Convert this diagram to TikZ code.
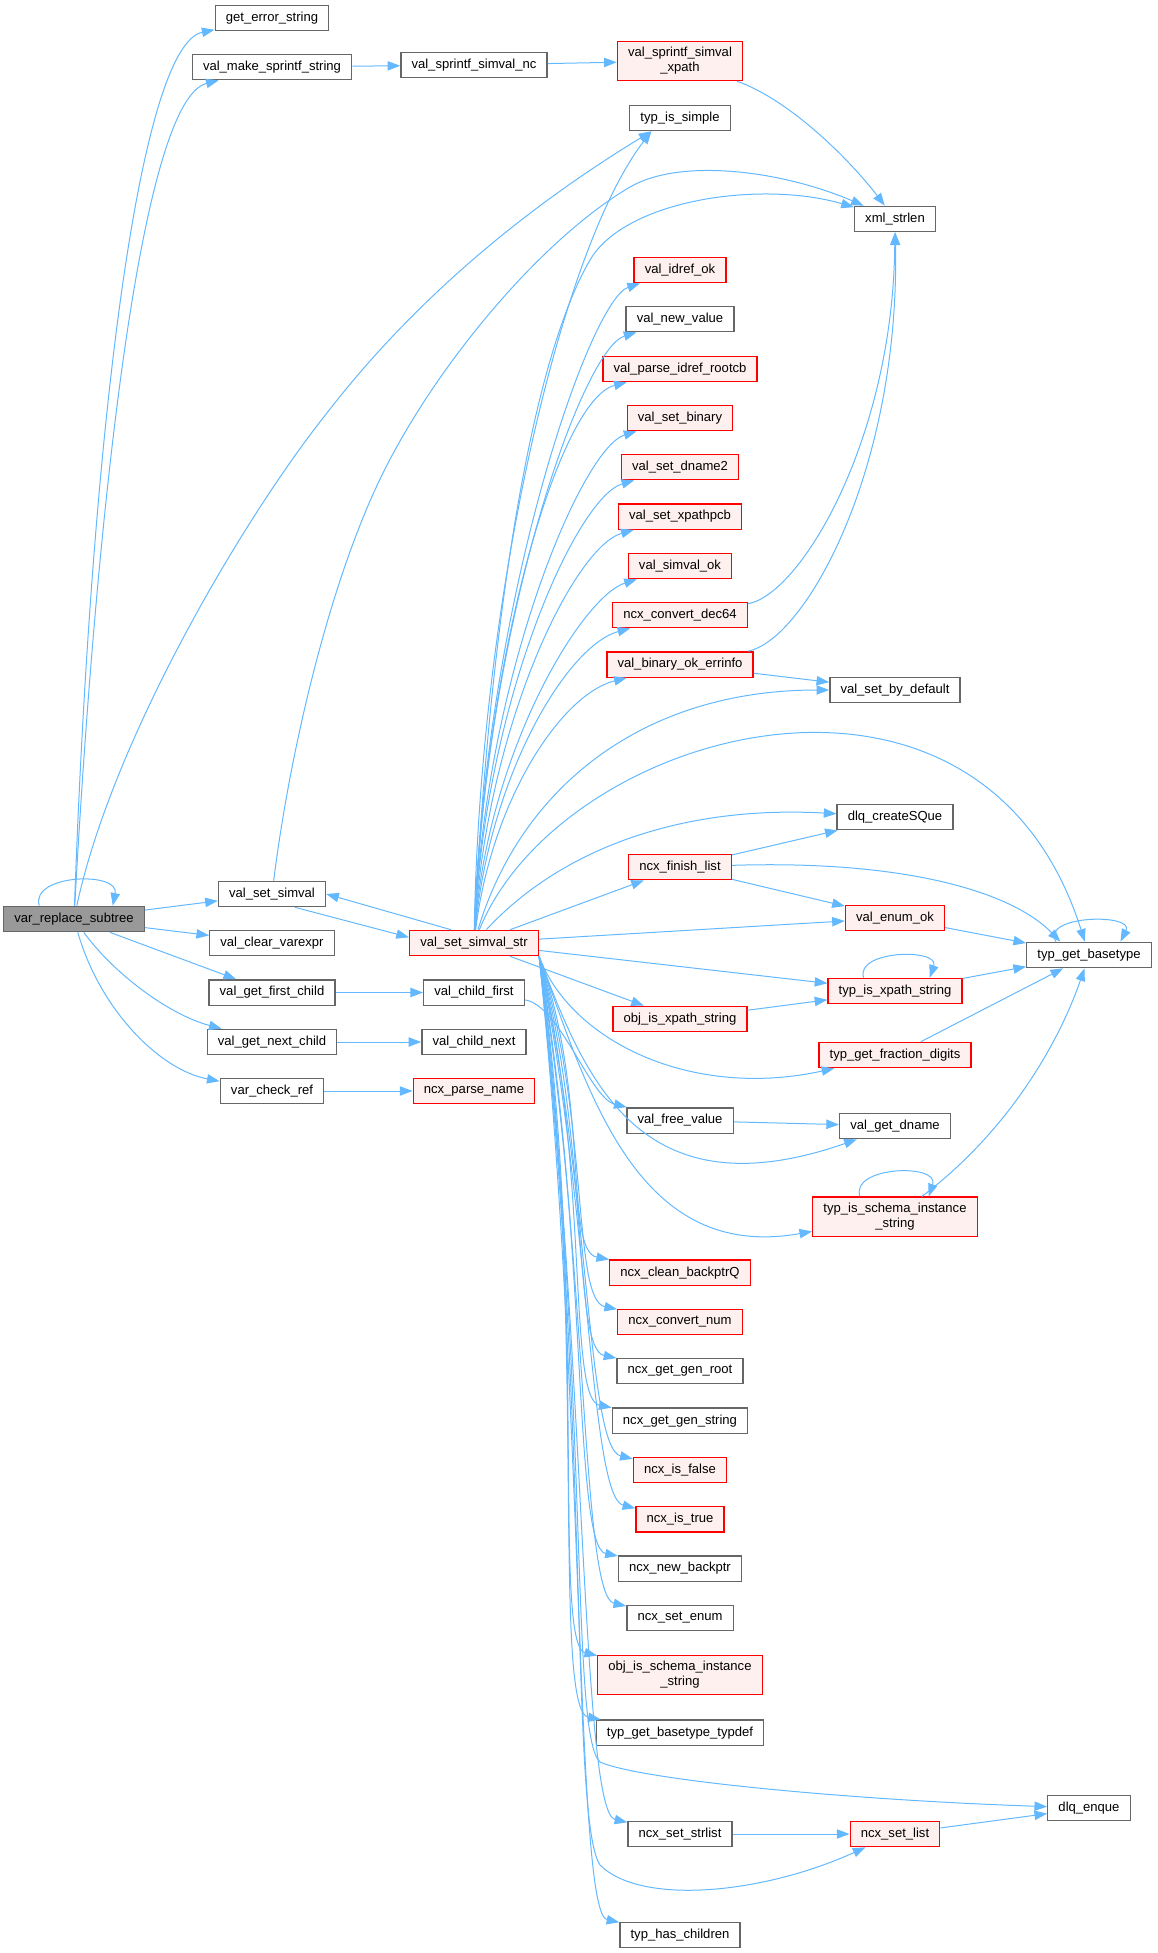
\documentclass[tikz,border=0pt]{standalone}
\usepackage{fontspec}
\setmainfont{Liberation Sans}
\usetikzlibrary{arrows.meta}
\definecolor{edgeblue}{HTML}{63B8FF}
\definecolor{boxgray}{HTML}{666666}
\definecolor{fillred}{HTML}{FFF0F0}
\definecolor{fillroot}{HTML}{999999}
\begin{document}
\begin{tikzpicture}[x=0.75pt, y=-0.75pt,
  func/.style={draw=boxgray, fill=white, line width=1pt, inner xsep=8pt, inner ysep=4.5pt, minimum height=19pt, align=center, font=\fontsize{9.8pt}{11.25pt}\selectfont},
  funcred/.style={func, draw=red, fill=fillred},
  funcroot/.style={func, fill=fillroot},
  calls/.style={draw=edgeblue, line width=0.75pt, -{Triangle[length=9.5pt, width=7pt]}}]
\useasboundingbox (0,0) rectangle (1157,1953);
\node[funcroot] (R) at (74,919) {var\_replace\_subtree};
\node[func] (ges) at (272,18) {get\_error\_string};
\node[func] (vmss) at (272,67) {val\_make\_sprintf\_string};
\node[func] (vssnc) at (474,65) {val\_sprintf\_simval\_nc};
\node[funcred] (vssx) at (680,61) {val\_sprintf\_simval\\\_xpath};
\node[func] (tis) at (680,118) {typ\_is\_simple};
\node[func] (xsl) at (895,219) {xml\_strlen};
\node[funcred] (vio) at (680,270) {val\_idref\_ok};
\node[func] (vnv) at (680,319) {val\_new\_value};
\node[funcred] (vpir) at (680,369) {val\_parse\_idref\_rootcb};
\node[funcred] (vsb) at (680,418) {val\_set\_binary};
\node[funcred] (vsd) at (680,467) {val\_set\_dname2};
\node[funcred] (vsx) at (680,516.5) {val\_set\_xpathpcb};
\node[funcred] (vso) at (680,566) {val\_simval\_ok};
\node[funcred] (ncd) at (680,615) {ncx\_convert\_dec64};
\node[funcred] (vboe) at (680,664.5) {val\_binary\_ok\_errinfo};
\node[func] (vsbd) at (895,690) {val\_set\_by\_default};
\node[func] (dcs) at (895,817) {dlq\_createSQue};
\node[funcred] (nfl) at (680,867) {ncx\_finish\_list};
\node[func] (vss) at (272,894) {val\_set\_simval};
\node[funcred] (S) at (474,943) {val\_set\_simval\_str};
\node[func] (vcv) at (272,943) {val\_clear\_varexpr};
\node[funcred] (veo) at (895,918) {val\_enum\_ok};
\node[func] (tgb) at (1089,955) {typ\_get\_basetype};
\node[funcred] (tixs) at (895,991) {typ\_is\_xpath\_string};
\node[func] (vgfc) at (272,992.5) {val\_get\_first\_child};
\node[func] (vcf) at (474,992.5) {val\_child\_first};
\node[funcred] (oixs) at (680,1019) {obj\_is\_xpath\_string};
\node[funcred] (tgfd) at (895,1055) {typ\_get\_fraction\_digits};
\node[func] (vgnc) at (272,1042) {val\_get\_next\_child};
\node[func] (vcn) at (474,1042) {val\_child\_next};
\node[func] (vcr) at (272,1091) {var\_check\_ref};
\node[funcred] (npn) at (474,1091) {ncx\_parse\_name};
\node[func] (vfv) at (680,1120.5) {val\_free\_value};
\node[func] (vgd) at (895,1126) {val\_get\_dname};
\node[funcred] (tisis) at (895,1216.7) {typ\_is\_schema\_instance\\\_string};
\node[funcred] (ncb) at (680,1272.7) {ncx\_clean\_backptrQ};
\node[funcred] (ncn) at (680,1322) {ncx\_convert\_num};
\node[func] (nggr) at (680,1371) {ncx\_get\_gen\_root};
\node[func] (nggs) at (680,1420.7) {ncx\_get\_gen\_string};
\node[funcred] (nif) at (680,1470) {ncx\_is\_false};
\node[funcred] (nit) at (680,1519.3) {ncx\_is\_true};
\node[func] (nnb) at (680,1568.5) {ncx\_new\_backptr};
\node[func] (nse) at (680,1618) {ncx\_set\_enum};
\node[funcred] (oisis) at (680,1675) {obj\_is\_schema\_instance\\\_string};
\node[func] (tgbt) at (680,1732.7) {typ\_get\_basetype\_typdef};
\node[func] (dle) at (1089,1808) {dlq\_enque};
\node[func] (nssl) at (680,1834) {ncx\_set\_strlist};
\node[funcred] (nsl) at (895,1834) {ncx\_set\_list};
\node[func] (thc) at (680,1935) {typ\_has\_children};
% callers on the left
\draw[calls] (R.159) .. controls (30,874) and (120,871) .. (R.19);
\draw[calls] (R) .. controls (92,420) and (140,45) .. (ges);
\draw[calls] (R) .. controls (96,520) and (140,100) .. (vmss);
\draw[calls] (R) .. controls (110,750) and (230,540) .. (316,427) .. controls (345,390) and (440,260) .. (tis.205);
\draw[calls] (R) -- (vss);
\draw[calls] (R) -- (vcv);
\draw[calls] (R) -- (vgfc);
\draw[calls] (R) .. controls (115,975) and (170,1015) .. (vgnc);
\draw[calls] (R) .. controls (100,1010) and (160,1070) .. (vcr);
\draw[calls] (vmss) -- (vssnc);
\draw[calls] (vssnc) -- (vssx);
\draw[calls] (vssx) .. controls (790,100) and (850,160) .. (xsl);
\draw[calls] (vss.-30) -- (S.175);
\draw[calls] (S.150) -- (vss.east);
\draw[calls] (vss) .. controls (290,750) and (330,580) .. (383,473) .. controls (436,366) and (540,240) .. (630,187) .. controls (680,158) and (780,170) .. (xsl);
\draw[calls] (vgfc) -- (vcf);
\draw[calls] (vgnc) -- (vcn);
\draw[calls] (vcr) -- (npn);
\draw[calls] (vcf) .. controls (560,1005) and (590,1098) .. (vfv);
% val_set_simval_str, upwards
\draw[calls] (S) .. controls (480,600) and (560,250) .. (tis.205);
\draw[calls] (S) .. controls (485,700) and (520,380) .. (590,260) .. controls (625,200) and (760,180) .. (xsl);
\draw[calls] (S) .. controls (485,600) and (590,300) .. (vio);
\draw[calls] (S) .. controls (485,625) and (582,349) .. (vnv);
\draw[calls] (S) .. controls (485,650) and (560,399) .. (vpir);
\draw[calls] (S) .. controls (485,675) and (582,448) .. (vsb);
\draw[calls] (S) .. controls (485,699) and (577,497) .. (vsd);
\draw[calls] (S) .. controls (487,724) and (574,547) .. (vsx);
\draw[calls] (S) .. controls (488,749) and (583,596) .. (vso);
\draw[calls] (S) .. controls (490,773) and (568,645) .. (ncd);
\draw[calls] (S) .. controls (492,798) and (562,694) .. (vboe);
\draw[calls] (S) .. controls (520,790) and (640,690) .. (vsbd);
\draw[calls] (S) .. controls (560,730) and (980,610) .. (tgb);
\draw[calls] (S) .. controls (560,850) and (680,805) .. (dcs);
\draw[calls] (S) -- (nfl);
\draw[calls] (S) -- (veo);
\draw[calls] (S) -- (tixs);
\draw[calls] (S) -- (oixs);
% val_set_simval_str, downwards
\draw[calls] (S.south east) .. controls (570,1040) and (690,1100) .. (tgfd);
\draw[calls] (S.south east) .. controls (585,1080) and (640,1215) .. (vgd);
\draw[calls] (S.south east) .. controls (590,1100) and (640,1262) .. (tisis);
\draw[calls] (S.south east) .. controls (590,1098) and (564,1251) .. (ncb);
\draw[calls] (S.south east) .. controls (590,1121) and (572,1300) .. (ncn);
\draw[calls] (S.south east) .. controls (590,1143) and (572,1349) .. (nggr);
\draw[calls] (S.south east) .. controls (590,1165) and (567,1399) .. (nggs);
\draw[calls] (S.south east) .. controls (590,1187) and (587,1448) .. (nif);
\draw[calls] (S.south east) .. controls (590,1210) and (590,1497) .. (nit);
\draw[calls] (S.south east) .. controls (588,1232) and (573,1547) .. (nnb);
\draw[calls] (S.south east) .. controls (588,1254) and (581,1596) .. (nse);
\draw[calls] (S.south east) .. controls (588,1280) and (552,1645) .. (oisis);
\draw[calls] (S.south east) .. controls (588,1305) and (551,1711) .. (tgbt);
\draw[calls] (S.south east) .. controls (586,1351) and (581,1812) .. (nssl);
\draw[calls] (S.south east) .. controls (585,1397) and (575,1913) .. (thc);
\draw[calls] (S.south east) .. controls (590,1400) and (570,1735) .. (600,1762) .. controls (640,1780) and (850,1800) .. (dle);
\draw[calls] (S.south east) .. controls (590,1420) and (570,1820) .. (600,1865) .. controls (640,1905) and (760,1895) .. (nsl);
% right hand side
\draw[calls] (ncd) .. controls (800,595) and (893,440) .. (xsl);
\draw[calls] (vboe) .. controls (805,640) and (900,470) .. (xsl);
\draw[calls] (vboe) -- (vsbd);
\draw[calls] (nfl) -- (dcs);
\draw[calls] (nfl) .. controls (900,860) and (1010,890) .. (tgb.155);
\draw[calls] (nfl) -- (veo);
\draw[calls] (veo) -- (tgb);
\draw[calls] (tixs) -- (tgb);
\draw[calls] (oixs) -- (tixs);
\draw[calls] (tgfd) -- (tgb);
\draw[calls] (tisis) .. controls (1010,1130) and (1060,1040) .. (tgb);
\draw[calls] (vfv) -- (vgd);
\draw[calls] (nssl) -- (nsl);
\draw[calls] (nsl) -- (dle);
\draw[calls] (tgb.158) .. controls (1040,915) and (1135,913) .. (tgb.23);
\draw[calls] (tixs.157) .. controls (855,950) and (940,948) .. (tixs.21);
\draw[calls] (tisis.150) .. controls (850,1166) and (940,1163) .. (tisis.31);
\end{tikzpicture}
\end{document}
